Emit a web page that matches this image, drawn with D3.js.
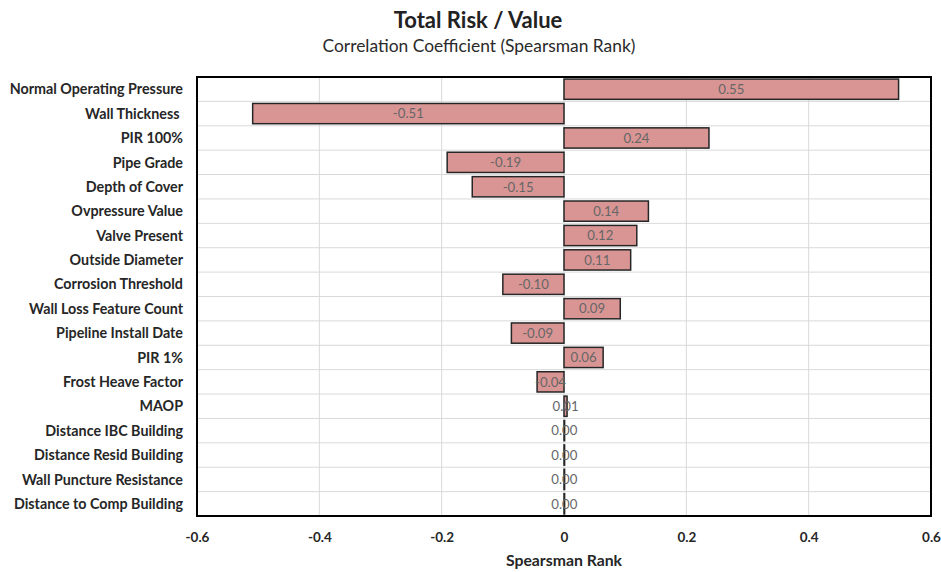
<!DOCTYPE html>
<html>
<head>
<meta charset="utf-8">
<script src="https://cdn.jsdelivr.net/npm/d3@7"></script>
<style>
  html, body { margin: 0; padding: 0; background: #fff; }
  svg { display: block; font-family: Lato, "Open Sans", sans-serif; }
  .ylab { white-space: pre; }
</style>
</head>
<body>
<svg id="chart" width="941" height="572"></svg>
<script>
// Drivers of total risk, ordered by strength of rank correlation
const categories = [
  "Normal Operating Pressure",
  "Wall Thickness ",
  "PIR 100%",
  "Pipe Grade",
  "Depth of Cover",
  "Ovpressure Value",
  "Valve Present",
  "Outside Diameter",
  "Corrosion Threshold",
  "Wall Loss Feature Count",
  "Pipeline Install Date",
  "PIR 1%",
  "Frost Heave Factor",
  "MAOP",
  "Distance IBC Building",
  "Distance Resid Building",
  "Wall Puncture Resistance",
  "Distance to Comp Building"
];
const values = [0.547, -0.509, 0.237, -0.191, -0.150, 0.138, 0.119, 0.109, -0.100, 0.092, -0.086, 0.064, -0.044, 0.005, 0.001, 0.001, 0.001, 0.001];
const xTicks = [-0.6, -0.4, -0.2, 0, 0.2, 0.4, 0.6];

const titleText = "Total Risk / Value";
const subtitleText = "Correlation Coefficient (Spearsman Rank)";
const xAxisTitle = "Spearsman Rank";

const svg = d3.select("#chart");
const plot = { left: 197, right: 931, top: 77, bottom: 516 };

const x = d3.scaleLinear().domain([-0.6, 0.6]).range([plot.left, plot.right]);
const y = d3.scaleBand().domain(categories).range([plot.top, plot.bottom]).paddingInner(0.17).paddingOuter(0.085);
const band = d3.scaleBand().domain(categories).range([plot.top, plot.bottom]);

const fmtTick = d => d === 0 ? "0" : d.toFixed(1);
const fmtVal = d => (d < 0 ? "-" : "") + Math.abs(d).toFixed(2);

// Titles
svg.append("text").attr("x", 478).attr("y", 28).attr("text-anchor", "middle")
  .attr("font-size", 22).attr("font-weight", "bold").attr("fill", "#222").text(titleText);
svg.append("text").attr("x", 479).attr("y", 52).attr("text-anchor", "middle")
  .attr("font-size", 17.4).attr("fill", "#2a2a2a").text(subtitleText);

// Vertical gridlines
svg.append("g").selectAll("line").data(xTicks).join("line")
  .attr("x1", d => x(d)).attr("x2", d => x(d))
  .attr("y1", plot.top).attr("y2", plot.bottom)
  .attr("stroke", "#d9d9d9").attr("stroke-width", 1);

// Horizontal row separators
svg.append("g").selectAll("line").data(categories.slice(1)).join("line")
  .attr("x1", plot.left).attr("x2", plot.right)
  .attr("y1", d => band(d)).attr("y2", d => band(d))
  .attr("stroke", "#d9d9d9").attr("stroke-width", 1);

// Bars
const rows = categories.map((c, i) => ({ c, v: values[i] }));
svg.append("g").selectAll("rect").data(rows).join("rect")
  .attr("x", d => x(Math.min(0, d.v)))
  .attr("y", d => y(d.c))
  .attr("width", d => Math.abs(x(d.v) - x(0)))
  .attr("height", y.bandwidth())
  .attr("fill", "#d99594")
  .attr("stroke", "#262626").attr("stroke-width", 1.5);

// Value labels centred on each bar
svg.append("g").selectAll("text").data(rows).join("text")
  .attr("x", d => (x(d.v) + x(0)) / 2)
  .attr("y", d => y(d.c) + y.bandwidth() / 2)
  .attr("dy", "0.36em")
  .attr("text-anchor", "middle")
  .attr("font-size", 13.2).attr("fill", "#666")
  .text(d => fmtVal(d.v));

// Plot border
svg.append("rect").attr("x", plot.left).attr("y", plot.top)
  .attr("width", plot.right - plot.left).attr("height", plot.bottom - plot.top)
  .attr("fill", "none").attr("stroke", "#000").attr("stroke-width", 2);

// Category labels
svg.append("g").selectAll("text").data(categories).join("text")
  .attr("class", "ylab")
  .attr("x", 183)
  .attr("y", d => band(d) + band.bandwidth() / 2)
  .attr("dy", "0.36em")
  .attr("text-anchor", "end")
  .attr("font-size", 14.3).attr("font-weight", "bold").attr("fill", "#262626")
  .text(d => d);

// X axis
const xAxis = d3.axisBottom(x).tickValues(xTicks).tickFormat(fmtTick).tickSize(0).tickPadding(0);
const gx = svg.append("g").attr("transform", `translate(0,${plot.bottom + 26})`).call(xAxis);
gx.select(".domain").remove();
gx.attr("font-family", null).attr("font-size", null);
gx.selectAll("text").attr("font-size", 13.5).attr("font-weight", "bold").attr("fill", "#262626")
  .attr("dy", "0");

svg.append("text").attr("x", 564).attr("y", 566).attr("text-anchor", "middle")
  .attr("font-size", 15.8).attr("font-weight", "bold").attr("fill", "#262626").text(xAxisTitle);
</script>
</body>
</html>
